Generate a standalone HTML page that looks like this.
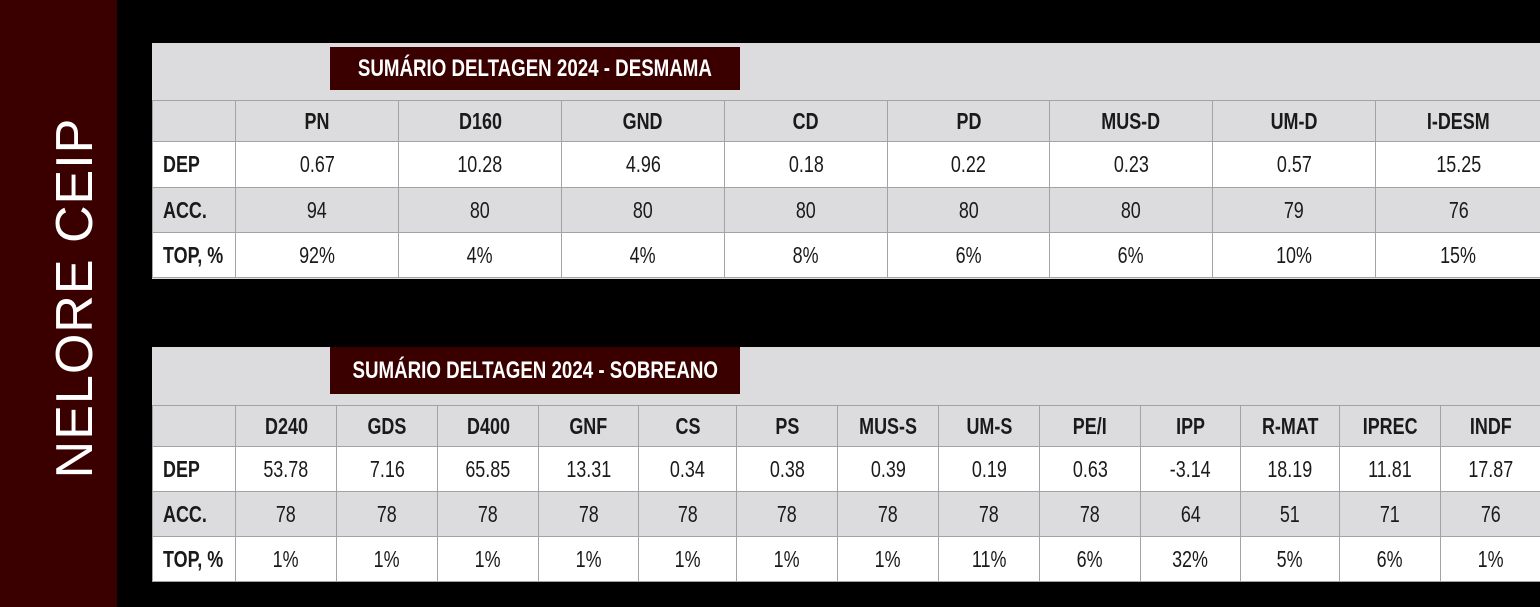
<!DOCTYPE html>
<html><head><meta charset="utf-8">
<style>
html,body{margin:0;padding:0;background:#000;width:1540px;height:607px;overflow:hidden;position:relative;font-family:"Liberation Sans",sans-serif;}
#side{position:absolute;left:0;top:0;width:117px;height:607px;background:#3a0000;}
#side span{position:absolute;left:75px;top:298px;transform:translate(-50%,-50%) rotate(-90deg);color:#fff;font-family:"Liberation Sans",sans-serif;font-size:52px;letter-spacing:1px;white-space:nowrap;}
.panel{position:absolute;left:152px;width:1388px;background:#dcdcde;}
.banner{position:absolute;left:330px;width:410px;background:#3a0000;color:#fff;font-weight:bold;font-size:24px;display:flex;align-items:center;justify-content:center;white-space:nowrap;}
.banner span,.cell span{display:inline-block;transform:scaleX(0.78);white-space:nowrap;}
.cell.lbl span{transform-origin:left center;}
.cell{position:absolute;box-sizing:border-box;border:1.5px solid #a3a3a5;display:flex;align-items:center;justify-content:center;font-size:23px;color:#1a1a1a;white-space:nowrap;}
.cell.lbl{justify-content:flex-start;padding-left:10px;font-weight:bold;}
.cell.hd{font-weight:bold;}
.g{background:#dcdcde}.w{background:#fff}
</style></head><body>
<div id="side"><span>NELORE CEIP</span></div>
<div class="panel" style="top:43px;height:236px"></div>
<div class="banner" style="top:47px;height:43px"><span>SUMÁRIO DELTAGEN 2024 - DESMAMA</span></div>
<div class="panel" style="top:347px;height:235px"></div>
<div class="banner" style="top:347px;height:47px"><span>SUMÁRIO DELTAGEN 2024 - SOBREANO</span></div>
<script>
const rowLabels=["DEP","ACC.","TOP, %"];
const t1Heads=["PN","D160","GND","CD","PD","MUS-D","UM-D","I-DESM"];
const t1Dep=["0.67","10.28","4.96","0.18","0.22","0.23","0.57","15.25"];
const t1Acc=["94","80","80","80","80","80","79","76"];
const t1Top=["92%","4%","4%","8%","6%","6%","10%","15%"];
const t2Heads=["D240","GDS","D400","GNF","CS","PS","MUS-S","UM-S","PE/I","IPP","R-MAT","IPREC","INDF"];
const t2Dep=["53.78","7.16","65.85","13.31","0.34","0.38","0.39","0.19","0.63","-3.14","18.19","11.81","17.87"];
const t2Acc=["78","78","78","78","78","78","78","78","78","64","51","71","76"];
const t2Top=["1%","1%","1%","1%","1%","1%","1%","11%","6%","32%","5%","6%","1%"];
function cell(x,y,w,h,txt,cls,name){
  const d=document.createElement('div');
  d.className='cell '+cls;
  d.style.left=x+'px';d.style.top=y+'px';d.style.width=w+'px';d.style.height=h+'px';
  const s=document.createElement('span');
  s.textContent=txt;
  d.appendChild(s);
  
  
  document.body.appendChild(d);
}
function table(prefix,heads,rows,xEdges,yEdges){
  cell(xEdges[0],yEdges[0],xEdges[1]-xEdges[0]+1,yEdges[1]-yEdges[0]+1,'','g',prefix+'-corner');
  heads.forEach((h,i)=>cell(xEdges[i+1],yEdges[0],xEdges[i+2]-xEdges[i+1]+1,yEdges[1]-yEdges[0]+1,h,'g hd',prefix+'-header-'+h.toLowerCase()));
  rows.forEach((r,ri)=>{
    const bg=ri===1?'g':'w';
    const y=yEdges[ri+1],h=yEdges[ri+2]-y+1;
    cell(xEdges[0],y,xEdges[1]-xEdges[0]+1,h,rowLabels[ri],bg+' lbl',prefix+'-row-label');
    r.forEach((v,i)=>cell(xEdges[i+1],y,xEdges[i+2]-xEdges[i+1]+1,h,v,bg,prefix+'-value-cell'));
  });
}
table('desmama',t1Heads,[t1Dep,t1Acc,t1Top],[152,235,398,561,724,887,1049,1212,1375,1541],[100,141,187,232,277]);
table('sobreano',t2Heads,[t2Dep,t2Acc,t2Top],[152,235,336,437,538,638,736,837,938,1039,1140,1240,1339,1440,1541],[405,446,491,536,581]);
</script>
</body></html>
